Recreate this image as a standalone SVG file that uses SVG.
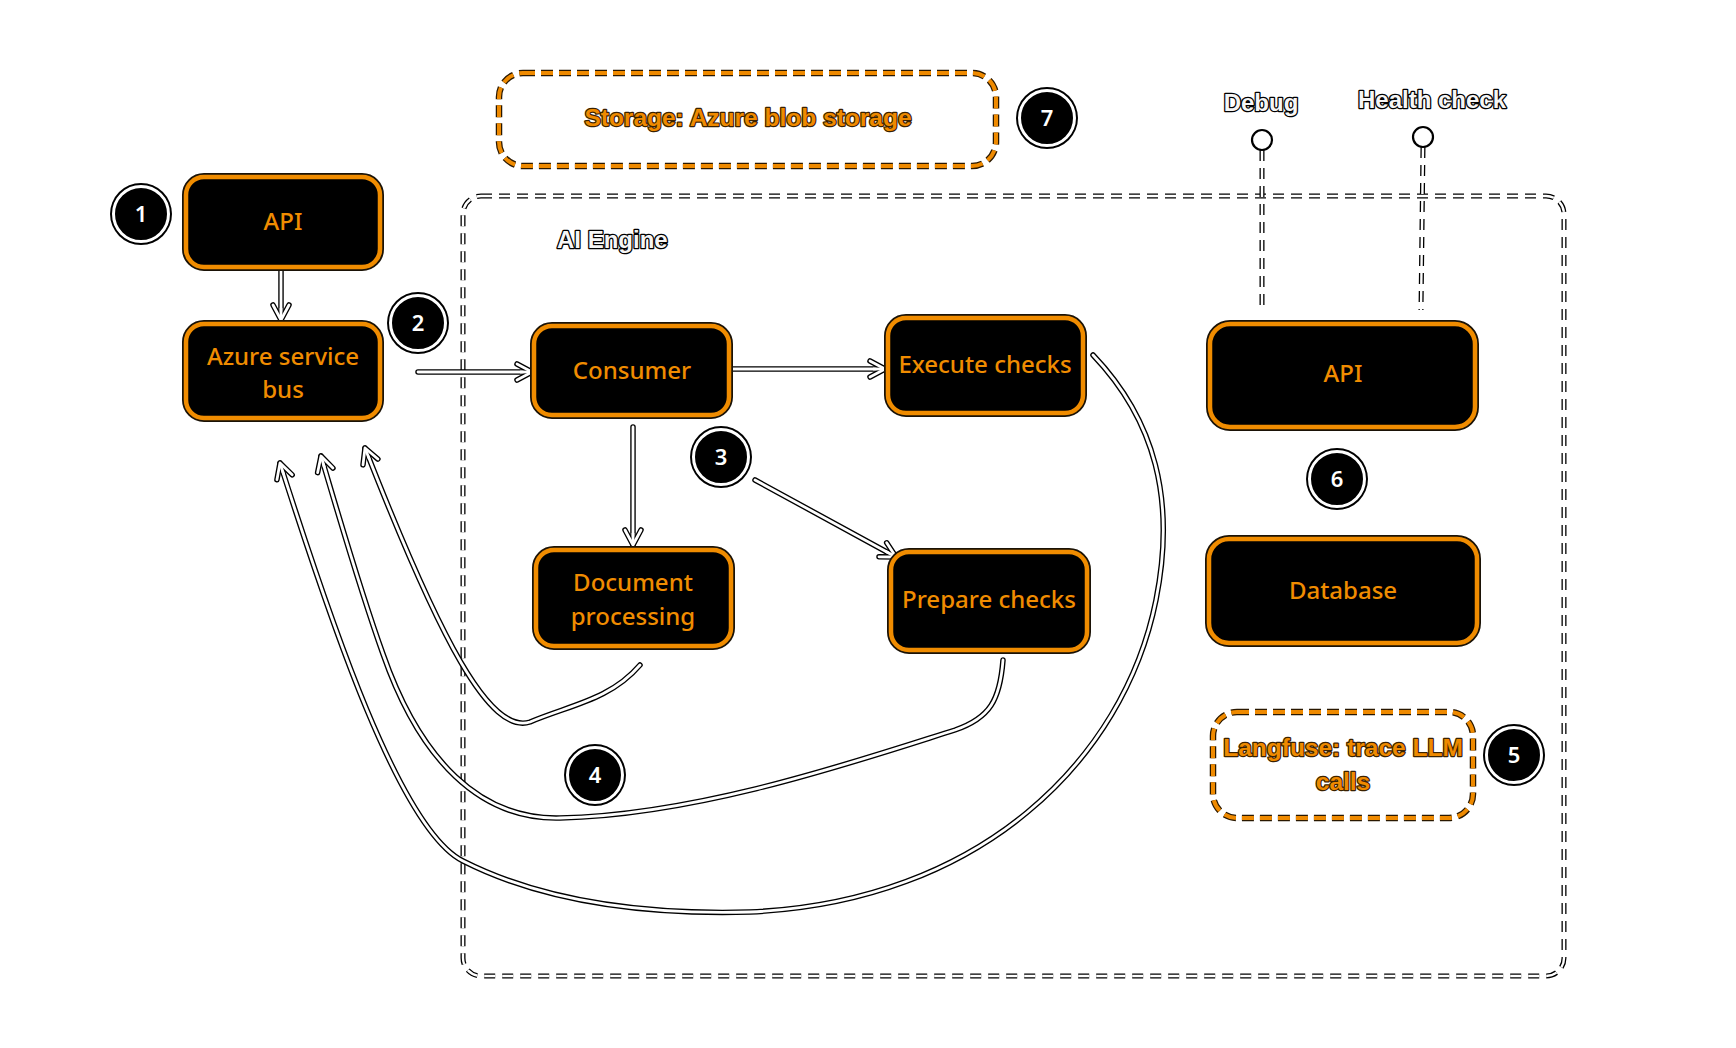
<svg xmlns="http://www.w3.org/2000/svg" width="1736" height="1048" viewBox="0 0 1736 1048">
<style>
.bg{fill:#ffffff}
.node-box{fill:#000;stroke:#f08c00;stroke-width:4.5}
.node-edge{fill:none;stroke:#1a1206;stroke-width:8}
.lbl{font-family:"Noto Sans","Open Sans",sans-serif;font-size:24px;font-weight:500;fill:#f08c00;text-anchor:middle}
.otxt{font-family:"Liberation Sans",Arial,sans-serif;font-size:24px;font-weight:700;fill:#f6f6f6;stroke:#000;stroke-width:2.6;paint-order:stroke;stroke-linejoin:round}
.otxt-o{font-family:"Liberation Sans",Arial,sans-serif;font-size:24.5px;font-weight:700;fill:#ef8a00;stroke:#3a2200;stroke-width:2.4;paint-order:stroke;stroke-linejoin:round;text-anchor:middle}
.dashB{fill:none;stroke:#000;stroke-width:5;stroke-dasharray:11 7}
.dashW{fill:none;stroke:#fff;stroke-width:2.4;stroke-dasharray:11 7}
.odashB{fill:none;stroke:#2a1800;stroke-width:6.5;stroke-dasharray:12 6}
.odashO{fill:none;stroke:#ef8a00;stroke-width:4;stroke-dasharray:12 6}
.lnB{fill:none;stroke:#000;stroke-width:5.5;stroke-linecap:round;stroke-linejoin:round}
.lnW{fill:none;stroke:#fff;stroke-width:2.8;stroke-linecap:round;stroke-linejoin:round}
.badge-o{fill:#000}
.badge-i{fill:#000;stroke:#fff;stroke-width:3}
.badge-t{font-family:"Noto Sans","Open Sans",sans-serif;font-size:22px;font-weight:600;fill:#fff;text-anchor:middle}
.lolli{fill:#fff;stroke:#000;stroke-width:2.2}
</style>
<defs>
<marker id="ah" markerUnits="userSpaceOnUse" markerWidth="40" markerHeight="40" refX="0" refY="0" orient="auto" overflow="visible">
<path d="M-15,-8 L0,0 L-15,8" fill="none" stroke="#000" stroke-width="5.5" stroke-linecap="round" stroke-linejoin="round"/>
<path d="M-15,-8 L0,0 L-15,8" fill="none" stroke="#fff" stroke-width="2.8" stroke-linecap="round" stroke-linejoin="round"/>
<path d="M-12,0 L-1,0" stroke="#fff" stroke-width="2.8"/>
</marker>
</defs>
<rect class="bg" x="0" y="0" width="1736" height="1048"/>

<g id="ai-engine">
<rect class="dashB" x="463" y="196" width="1101" height="780" rx="18"/>
<rect class="dashW" x="463" y="196" width="1101" height="780" rx="18"/>
<text class="otxt" x="557" y="248">AI Engine</text>
</g>

<g id="storage">
<rect class="odashB" x="499" y="73" width="497" height="93" rx="24"/>
<rect class="odashO" x="499" y="73" width="497" height="93" rx="24"/>
<text class="otxt-o" x="748" y="126">Storage: Azure blob storage</text>
</g>

<g id="langfuse">
<rect class="odashB" x="1213" y="712" width="260" height="106" rx="24"/>
<rect class="odashO" x="1213" y="712" width="260" height="106" rx="24"/>
<text class="otxt-o" x="1343" y="756">Langfuse: trace LLM</text>
<text class="otxt-o" x="1343" y="790">calls</text>
</g>

<g id="connectors">
<g id="c-api-bus"><path class="lnB" d="M281,268 L281,320"/><path class="lnW" d="M281,268 L281,320" marker-end="url(#ah)"/></g>
<g id="c-bus-consumer"><path class="lnB" d="M418,372 L532,372"/><path class="lnW" d="M418,372 L532,372" marker-end="url(#ah)"/></g>
<g id="c-consumer-execute"><path class="lnB" d="M731,369 L885,369"/><path class="lnW" d="M731,369 L885,369" marker-end="url(#ah)"/></g>
<g id="c-consumer-doc"><path class="lnB" d="M633,427 L633,545"/><path class="lnW" d="M633,427 L633,545" marker-end="url(#ah)"/></g>
<g id="c-3-prepare"><path class="lnB" d="M755,480 L896,557"/><path class="lnW" d="M755,480 L896,557" marker-end="url(#ah)"/></g>
<g id="c-doc-bus"><path class="lnB" d="M640,665 C610,700 570,705 530,722 C490,735 440,640 365,448"/><path class="lnW" d="M640,665 C610,700 570,705 530,722 C490,735 440,640 365,448" marker-end="url(#ah)"/></g>
<g id="c-prepare-bus"><path class="lnB" d="M1003,660 C1000,700 990,718 955,730 C860,760 700,815 560,818 C480,820 420,760 383,654 C360,590 340,520 321,456"/><path class="lnW" d="M1003,660 C1000,700 990,718 955,730 C860,760 700,815 560,818 C480,820 420,760 383,654 C360,590 340,520 321,456" marker-end="url(#ah)"/></g>
<g id="c-execute-bus"><path class="lnB" d="M1093,355 C1155,420 1176,500 1156,600 C1124,760 980,902 750,912 C640,915 540,900 463,861 C400,830 330,620 280,463"/><path class="lnW" d="M1093,355 C1155,420 1176,500 1156,600 C1124,760 980,902 750,912 C640,915 540,900 463,861 C400,830 330,620 280,463" marker-end="url(#ah)"/></g>
<g id="c-debug"><path class="dashB" d="M1262,150 L1262,312"/><path class="dashW" d="M1262,150 L1262,312"/><circle class="lolli" cx="1262" cy="140" r="10"/></g>
<g id="c-health"><path class="dashB" d="M1423,147 L1421,310"/><path class="dashW" d="M1423,147 L1421,310"/><circle class="lolli" cx="1423" cy="137" r="10"/></g>
</g>

<g id="debug-label"><text class="otxt" x="1261" y="111" text-anchor="middle">Debug</text></g>
<g id="health-label"><text class="otxt" x="1432" y="108" text-anchor="middle">Health check</text></g>

<g id="api-left">
<rect class="node-edge" x="186" y="177" width="194" height="90" rx="18"/>
<rect class="node-box" x="186" y="177" width="194" height="90" rx="18"/>
<text class="lbl" x="283" y="230">API</text>
</g>
<g id="service-bus">
<rect class="node-edge" x="186" y="324" width="194" height="94" rx="18"/>
<rect class="node-box" x="186" y="324" width="194" height="94" rx="18"/>
<text class="lbl" x="283" y="365">Azure service</text>
<text class="lbl" x="283" y="398">bus</text>
</g>
<g id="consumer">
<rect class="node-edge" x="534" y="326" width="195" height="89" rx="18"/>
<rect class="node-box" x="534" y="326" width="195" height="89" rx="18"/>
<text class="lbl" x="632" y="379">Consumer</text>
</g>
<g id="execute-checks">
<rect class="node-edge" x="888" y="318" width="195" height="95" rx="18"/>
<rect class="node-box" x="888" y="318" width="195" height="95" rx="18"/>
<text class="lbl" x="985" y="373">Execute checks</text>
</g>
<g id="document-processing">
<rect class="node-edge" x="536" y="550" width="195" height="96" rx="18"/>
<rect class="node-box" x="536" y="550" width="195" height="96" rx="18"/>
<text class="lbl" x="633" y="591">Document</text>
<text class="lbl" x="633" y="625">processing</text>
</g>
<g id="prepare-checks">
<rect class="node-edge" x="891" y="552" width="196" height="98" rx="18"/>
<rect class="node-box" x="891" y="552" width="196" height="98" rx="18"/>
<text class="lbl" x="989" y="608">Prepare checks</text>
</g>
<g id="api-right">
<rect class="node-edge" x="1210" y="324" width="265" height="103" rx="20"/>
<rect class="node-box" x="1210" y="324" width="265" height="103" rx="20"/>
<text class="lbl" x="1343" y="382">API</text>
</g>
<g id="database">
<rect class="node-edge" x="1209" y="539" width="268" height="104" rx="20"/>
<rect class="node-box" x="1209" y="539" width="268" height="104" rx="20"/>
<text class="lbl" x="1343" y="599">Database</text>
</g>

<g id="badge-1"><circle class="badge-o" cx="141" cy="214" r="31"/><circle class="badge-i" cx="141" cy="214" r="27.5"/><text class="badge-t" x="141" y="222">1</text></g>
<g id="badge-2"><circle class="badge-o" cx="418" cy="323" r="31"/><circle class="badge-i" cx="418" cy="323" r="27.5"/><text class="badge-t" x="418" y="331">2</text></g>
<g id="badge-3"><circle class="badge-o" cx="721" cy="457" r="31"/><circle class="badge-i" cx="721" cy="457" r="27.5"/><text class="badge-t" x="721" y="465">3</text></g>
<g id="badge-4"><circle class="badge-o" cx="595" cy="775" r="31"/><circle class="badge-i" cx="595" cy="775" r="27.5"/><text class="badge-t" x="595" y="783">4</text></g>
<g id="badge-5"><circle class="badge-o" cx="1514" cy="755" r="31"/><circle class="badge-i" cx="1514" cy="755" r="27.5"/><text class="badge-t" x="1514" y="763">5</text></g>
<g id="badge-6"><circle class="badge-o" cx="1337" cy="479" r="31"/><circle class="badge-i" cx="1337" cy="479" r="27.5"/><text class="badge-t" x="1337" y="487">6</text></g>
<g id="badge-7"><circle class="badge-o" cx="1047" cy="118" r="31"/><circle class="badge-i" cx="1047" cy="118" r="27.5"/><text class="badge-t" x="1047" y="126">7</text></g>
</svg>
